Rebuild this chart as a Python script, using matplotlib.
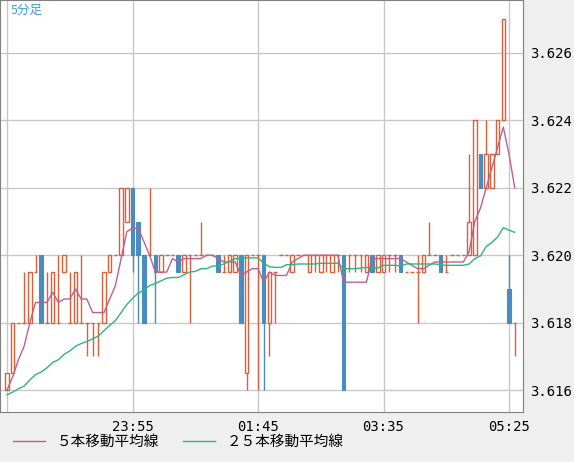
import matplotlib
matplotlib.use("Agg")
import matplotlib.pyplot as plt
from matplotlib.patches import Rectangle
from matplotlib.lines import Line2D
import numpy as np
import pandas as pd

plt.rcParams['font.family'] = ['Noto Sans CJK JP', 'DejaVu Sans']

# OHLC (5-minute candles), values
opens  = [3.6160,3.6165,3.6180,3.6180,3.6180,3.6195,3.6200,3.6180,3.6180,3.6180,3.6195,3.6180,3.6180,3.6180,3.6180,3.6180,3.6180,3.6180,3.6195,3.6200,
          3.6200,3.6210,3.6220,3.6210,3.6200,3.6200,3.6200,3.6195,3.6200,3.6200,3.6200,3.6195,3.6200,3.6200,3.6200,3.6200,3.6200,3.6200,3.6195,3.6195,
          3.6195,3.6200,3.6165,3.6200,3.6200,3.6200,3.6180,3.6195,3.6200,3.6200,3.6195,3.6200,3.6200,3.6195,3.6200,3.6195,3.6200,3.6195,3.6200,3.6200,
          3.6200,3.6200,3.6200,3.6195,3.6200,3.6195,3.6195,3.6200,3.6200,3.6200,3.6195,3.6195,3.6195,3.6195,3.6200,3.6200,3.6200,3.6195,3.6200,3.6200,
          3.6200,3.6200,3.6200,3.6230,3.6220,3.6220,3.6230,3.6240,3.6190,3.6180]
highs  = [3.6165,3.6180,3.6180,3.6195,3.6195,3.6200,3.6200,3.6195,3.6195,3.6200,3.6200,3.6195,3.6195,3.6200,3.6180,3.6180,3.6180,3.6195,3.6200,3.6200,
          3.6220,3.6220,3.6220,3.6210,3.6200,3.6220,3.6200,3.6200,3.6200,3.6200,3.6200,3.6200,3.6200,3.6200,3.6210,3.6200,3.6200,3.6200,3.6200,3.6200,
          3.6200,3.6200,3.6200,3.6200,3.6200,3.6200,3.6195,3.6195,3.6200,3.6200,3.6200,3.6200,3.6200,3.6200,3.6200,3.6200,3.6200,3.6200,3.6200,3.6200,
          3.6200,3.6200,3.6200,3.6200,3.6200,3.6200,3.6200,3.6200,3.6200,3.6200,3.6195,3.6195,3.6200,3.6200,3.6210,3.6200,3.6200,3.6200,3.6200,3.6200,
          3.6200,3.6230,3.6240,3.6230,3.6240,3.6230,3.6240,3.6270,3.6200,3.6180]
lows   = [3.6160,3.6165,3.6180,3.6180,3.6180,3.6195,3.6180,3.6180,3.6180,3.6180,3.6195,3.6180,3.6180,3.6180,3.6170,3.6170,3.6170,3.6180,3.6195,3.6200,
          3.6200,3.6210,3.6195,3.6180,3.6180,3.6200,3.6180,3.6195,3.6200,3.6200,3.6195,3.6195,3.6180,3.6200,3.6200,3.6200,3.6200,3.6195,3.6195,3.6195,
          3.6195,3.6180,3.6160,3.6200,3.6160,3.6160,3.6170,3.6180,3.6200,3.6200,3.6195,3.6200,3.6200,3.6195,3.6195,3.6195,3.6195,3.6195,3.6195,3.6160,
          3.6195,3.6195,3.6195,3.6195,3.6195,3.6195,3.6195,3.6195,3.6195,3.6195,3.6195,3.6195,3.6180,3.6195,3.6200,3.6200,3.6195,3.6195,3.6200,3.6200,
          3.6200,3.6200,3.6200,3.6220,3.6220,3.6220,3.6230,3.6240,3.6180,3.6170]
closes = [3.6165,3.6180,3.6180,3.6180,3.6195,3.6195,3.6180,3.6180,3.6195,3.6180,3.6200,3.6180,3.6195,3.6180,3.6180,3.6180,3.6180,3.6195,3.6200,3.6200,
          3.6220,3.6220,3.6200,3.6200,3.6180,3.6200,3.6195,3.6200,3.6200,3.6200,3.6195,3.6200,3.6200,3.6200,3.6200,3.6200,3.6200,3.6195,3.6195,3.6200,
          3.6200,3.6180,3.6200,3.6200,3.6200,3.6180,3.6195,3.6195,3.6200,3.6200,3.6200,3.6200,3.6200,3.6200,3.6200,3.6200,3.6200,3.6200,3.6200,3.6160,
          3.6200,3.6200,3.6200,3.6200,3.6195,3.6200,3.6200,3.6200,3.6200,3.6195,3.6195,3.6195,3.6195,3.6200,3.6200,3.6200,3.6195,3.6195,3.6200,3.6200,
          3.6200,3.6210,3.6240,3.6220,3.6230,3.6230,3.6240,3.6270,3.6180,3.6180]
# closes before the first visible candle (for moving averages)
prior_closes = [3.6160,3.6155,3.6160,3.6150,3.6155,3.6160,3.6150,3.6155,3.6160,3.6160,3.6155,3.6160,
                3.6160,3.6165,3.6160,3.6160,3.6155,3.6160,3.6165,3.6160,3.6160,3.6155,3.6160,3.6160]
time_labels = ["", "23:55", "01:45", "03:35", "05:25"]
tick_index = [0, 22, 44, 66, 88]
y_ticks = [3.616, 3.618, 3.620, 3.622, 3.624, 3.626]

UP = "#d9603b"; DOWN = "#4a8bc0"; MA5C = "#c0608a"; MA25C = "#2eb67d"
GRID = "#c8c8c8"; PANEL = "#efefef"

W, H = 574, 462
fig = plt.figure(figsize=(W/100, H/100), dpi=100)
fig.patch.set_facecolor(PANEL)
ax = fig.add_axes([0, 1-412/H, 523/W, 412/H])
ax.set_facecolor("white")

n = len(closes)
x = np.arange(n)
bw = 0.62
for i in x:
    o, h, l, c = opens[i], highs[i], lows[i], closes[i]
    if c < o:
        ax.vlines(i, l, h, color=DOWN, lw=1, zorder=3)
        ax.add_patch(Rectangle((i-bw/2, c), bw, o-c, facecolor=DOWN, edgecolor=DOWN, lw=0.8, zorder=4))
    elif c > o:
        ax.vlines(i, l, o, color=UP, lw=1, zorder=3)
        ax.vlines(i, c, h, color=UP, lw=1, zorder=3)
        ax.add_patch(Rectangle((i-bw/2, o), bw, c-o, facecolor="white", edgecolor=UP, lw=1, zorder=4))
    else:
        ax.vlines(i, l, h, color=UP, lw=1, zorder=3)
        ax.hlines(o, i-bw/2, i+bw/2, color=UP, lw=1, zorder=4)

allc = pd.Series(prior_closes + closes)
ma5 = allc.rolling(5, min_periods=1).mean().values[len(prior_closes):]
ma25 = allc.rolling(25, min_periods=1).mean().values[len(prior_closes):]
ax.plot(x, ma5, color=MA5C, lw=1, zorder=5)
ax.plot(x, ma25, color=MA25C, lw=1, zorder=5)

ax.set_xlim(-1.23, 90.45)
ax.set_ylim(3.61535, 3.62757)
ax.set_xticks(tick_index)
ax.set_xticklabels(time_labels, family='DejaVu Sans Mono', fontsize=10)
ax.set_yticks(y_ticks)
ax.set_yticklabels([f"{v:.3f}" for v in y_ticks], family='DejaVu Sans Mono', fontsize=10)
ax.yaxis.tick_right()
ax.tick_params(length=0, pad=5)
ax.tick_params(axis='x', pad=6)
ax.grid(True, color=GRID, lw=1, zorder=0)
for s in ax.spines.values():
    s.set_color("#808080")
ax.text(0.02, 0.99, "5分足", transform=ax.transAxes, ha="left", va="top", color="#3aa0e0", fontsize=9)

handles = [Line2D([], [], color=MA5C, lw=1), Line2D([], [], color=MA25C, lw=1)]
fig.legend(handles, ["５本移動平均線", "２５本移動平均線"], loc="lower left", bbox_to_anchor=(0.0, 0.0),
           ncol=2, frameon=False, fontsize=10.5, handlelength=2.2, columnspacing=1.6, handletextpad=0.8)

fig.savefig("out.png", dpi=100, facecolor=PANEL)
